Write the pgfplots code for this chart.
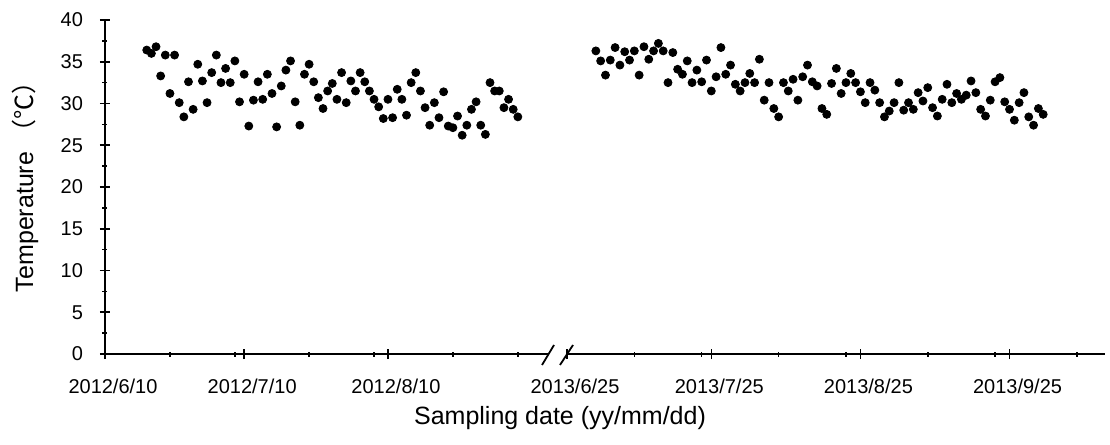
\documentclass[border=0pt]{standalone}
\usepackage{pgfplots}
\pgfplotsset{compat=1.18}
\usepackage{fontspec}
\setmainfont{Liberation Sans}
\newfontfamily\cjk{Noto Sans CJK SC}

% days after 2012/6/10
\pgfplotstableread{
day T
9 36.4
10 36.0
11 36.8
12 33.3
13 35.8
14 31.2
15 35.8
16 30.1
17 28.4
18 32.6
19 29.3
20 34.7
21 32.7
22 30.1
23 33.7
24 35.8
25 32.5
26 34.2
27 32.5
28 35.1
29 30.2
30 33.5
31 27.3
32 30.4
33 32.6
34 30.5
35 33.5
36 31.2
37 27.2
38 32.1
39 34.0
40 35.1
41 30.2
42 27.4
43 33.5
44 34.7
45 32.6
46 30.7
47 29.4
48 31.5
49 32.4
50 30.5
51 33.7
52 30.1
53 32.7
54 31.5
55 33.7
56 32.6
57 31.5
58 30.5
59 29.6
60 28.2
61 30.5
62 28.3
63 31.7
64 30.5
65 28.6
66 32.5
67 33.7
68 31.5
69 29.5
70 27.4
71 30.1
72 28.3
73 31.4
74 27.3
75 27.1
76 28.5
77 26.2
78 27.4
79 29.3
80 30.2
81 27.4
82 26.3
83 32.5
84 31.5
85 31.5
86 29.5
87 30.5
88 29.3
89 28.4
}\yeara

% days after 2013/6/25
\pgfplotstableread{
day T
6 36.3
7 35.1
8 33.4
9 35.2
10 36.7
11 34.6
12 36.2
13 35.2
14 36.3
15 33.4
16 36.8
17 35.3
18 36.3
19 37.2
20 36.3
21 32.5
22 36.1
23 34.1
24 33.5
25 35.1
26 32.5
27 34.0
28 32.6
29 35.2
30 31.5
31 33.2
32 36.7
33 33.5
34 34.6
35 32.3
36 31.5
37 32.5
38 33.6
39 32.5
40 35.3
41 30.4
42 32.5
43 29.4
44 28.4
45 32.5
46 31.5
47 32.9
48 30.4
49 33.2
50 34.6
51 32.6
52 32.1
53 29.4
54 28.7
55 32.4
56 34.2
57 31.2
58 32.5
59 33.6
60 32.5
61 31.4
62 30.1
63 32.5
64 31.6
65 30.1
66 28.4
67 29.1
68 30.1
69 32.5
70 29.2
71 30.1
72 29.3
73 31.3
74 30.3
75 31.9
76 29.5
77 28.5
78 30.5
79 32.3
80 30.1
81 31.2
82 30.5
83 31.0
84 32.7
85 31.3
86 29.3
87 28.5
88 30.4
89 32.6
90 33.1
91 30.2
92 29.3
93 28.0
94 30.1
95 31.3
96 28.4
97 27.4
98 29.4
99 28.7
}\yearb

\pgfplotsset{
  brk/.style={
    anchor=south west, scale only axis, height=167pt,
    ymin=0, ymax=40,
    tick align=outside, major tick length=5pt, minor tick length=2.5pt,
    tick style={line width=0.8pt, black},
    tick label style={font=\fontsize{10}{12}\selectfont},
    /pgf/number format/assume math mode=true,
    xticklabel style={xshift=4pt, yshift=-6.5pt},
    yticklabel style={xshift=-5pt},
    clip=false,
  },
  dots/.style={only marks, mark=*, mark size=2pt, black},
}

\begin{document}
\begin{tikzpicture}
\path[use as bounding box] (0,0) rectangle (555pt,222.5pt);

\begin{axis}[brk, at={(52.5pt,45.5pt)}, width=221.5pt,
    axis x line=bottom, axis y line=left,
    axis line style={-, line width=1pt},
    xmin=0, xmax=95.5,
    xtick={0,30,61}, xticklabels={2012/6/10,2012/7/10,2012/8/10},
    minor xtick={14,28,44,58,75,89},
    ytick={0,5,...,40}, minor y tick num=1]
  \addplot[dots] table[x=day, y=T] {\yeara};
\end{axis}

\begin{axis}[brk, at={(283.5pt,45.5pt)}, width=269pt,
    axis x line=bottom, axis y line=none, ytick=\empty,
    axis line style={-, line width=1pt},
    xmin=0, xmax=111.85,
    xtick={0,30,61,92}, xticklabels={2013/6/25,2013/7/25,2013/8/25,2013/9/25},
    minor xtick={14,28,44,58,75,89,106}]
  \addplot[dots] table[x=day, y=T] {\yearb};
\end{axis}

% axis break
\draw[line width=0.9pt] (271pt,40pt) -- (277pt,50pt);
\draw[line width=0.9pt] (280pt,40pt) -- (286.5pt,50pt);

\node[rotate=90, font=\fontsize{12.5}{15}\selectfont] at (12.5pt,132pt) {Temperature {\cjk （℃）}};
\node[font=\fontsize{12.5}{15}\selectfont] at (280pt,13.5pt) {Sampling date (yy/mm/dd)};
\end{tikzpicture}
\end{document}
